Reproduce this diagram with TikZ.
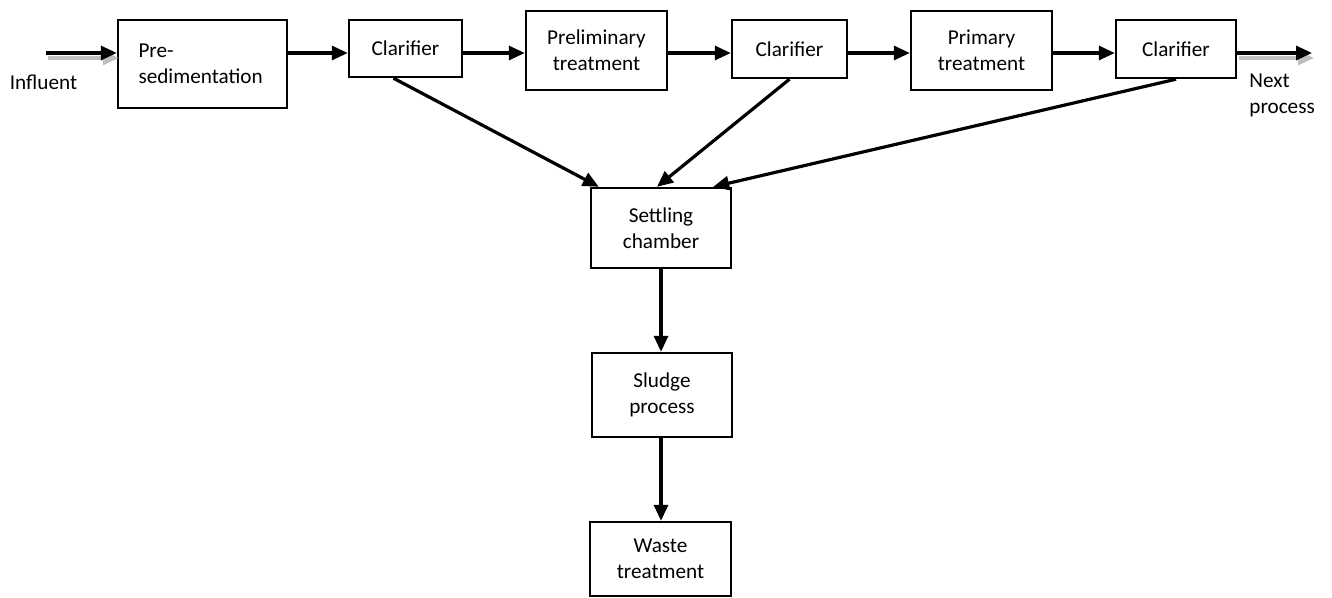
\documentclass[tikz,border=0pt]{standalone}
\usepackage{fontspec}
\setmainfont{Carlito}
\usetikzlibrary{arrows.meta}
\tikzset{
  box/.style={draw, line width=1.2pt, align=center, inner sep=0pt,
    font=\fontsize{10.6}{13}\selectfont},
  flow/.style={line width=1.6pt, -{Triangle[length=8pt,width=7pt]}},
  shade/.style={flow, draw=black!25, fill=black!25,
    transform canvas={xshift=1pt,yshift=-2.5pt}},
}
\begin{document}
\begin{tikzpicture}[x=0.5pt, y=-0.5pt]
  \useasboundingbox (0,0) rectangle (1332,598);
  % 上段の処理
  \node[box, minimum width=84.5pt, minimum height=44pt, align=left, text width=64pt] (presed) at (202.5,64) {Pre-\\sedimentation};
  \node[box, minimum width=56.5pt, minimum height=28.5pt] (clar1) at (405.5,48.5) {Clarifier};
  \node[box, minimum width=70.5pt, minimum height=39.5pt] (prelim) at (596.5,50.5) {Preliminary\\treatment};
  \node[box, minimum width=57.5pt, minimum height=29pt] (clar2) at (789.5,49) {Clarifier};
  \node[box, minimum width=70.5pt, minimum height=39.5pt] (primary) at (981.5,50.5) {Primary\\treatment};
  \node[box, minimum width=60pt, minimum height=29pt] (clar3) at (1176,49) {Clarifier};
  % 汚泥の系統
  \node[box, minimum width=70pt, minimum height=40pt] (settle) at (661,228) {Settling\\chamber};
  \node[box, minimum width=70pt, minimum height=42pt] (sludge) at (662,395) {Sludge\\process};
  \node[box, minimum width=70.5pt, minimum height=37pt] (waste) at (660.5,559) {Waste\\treatment};
  % 入口と出口
  \node[font=\fontsize{10.6}{13}\selectfont] (infl) at (43.5,82) {Influent};
  \node[font=\fontsize{10.6}{13}\selectfont, align=left, anchor=west, inner sep=0pt] (nextp) at (1249,95) {Next\\process};
  \coordinate (lvl) at (0,53);
  \coordinate (inl) at (46,53);
  \coordinate (outr) at (1312,53);
  \draw[shade] (inl) -- (presed.west |- lvl);
  \draw[flow] (inl) -- (presed.west |- lvl);
  \draw[shade] (clar3.east |- lvl) -- (outr);
  \draw[flow] (clar3.east |- lvl) -- (outr);
  % 水の流れ
  \draw[flow] (presed.east |- lvl) -- (clar1.west |- lvl);
  \draw[flow] (clar1.east |- lvl) -- (prelim.west |- lvl);
  \draw[flow] (prelim.east |- lvl) -- (clar2.west |- lvl);
  \draw[flow] (clar2.east |- lvl) -- (primary.west |- lvl);
  \draw[flow] (primary.east |- lvl) -- (clar3.west |- lvl);
  % 沈殿物の流れ
  \draw[flow] ([xshift=-6pt]clar1.south) -- ([xshift=4.5pt]settle.north west);
  \draw[flow] (clar2.south) -- ([xshift=-2pt]settle.north);
  \draw[flow] (clar3.south) -- ([xshift=-9.5pt]settle.north east);
  \draw[flow] (settle.south) -- (settle.south |- sludge.north);
  \draw[flow] (settle.south |- sludge.south) -- (settle.south |- waste.north);
\end{tikzpicture}
\end{document}
